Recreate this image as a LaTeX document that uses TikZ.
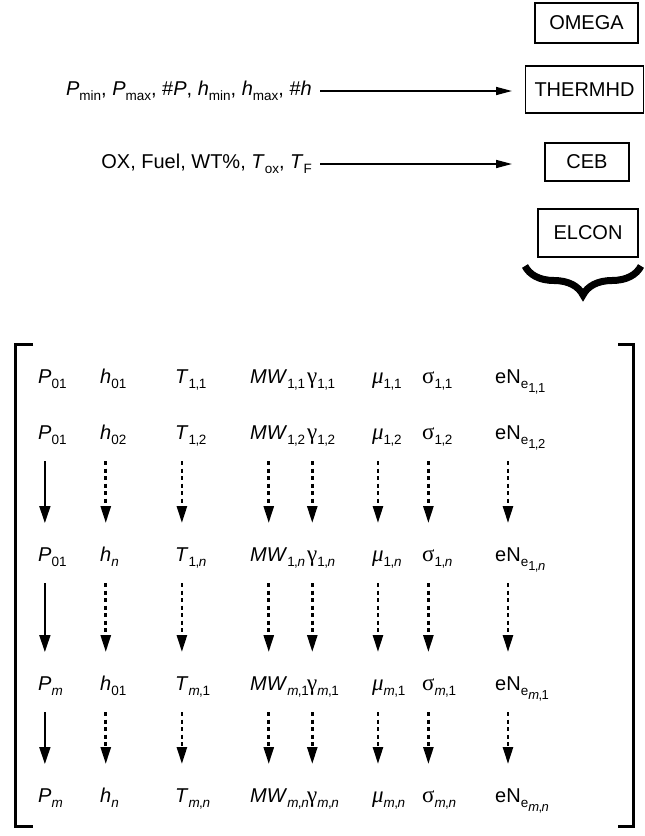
\documentclass[tikz,border=0pt]{standalone}
\usepackage{fontspec}
\setmainfont{Liberation Sans}
\newfontfamily\grk{Liberation Serif}
\usetikzlibrary{arrows.meta,decorations.pathreplacing}

\newcommand{\lo}[1]{\raisebox{-5pt}{\fontsize{13.5}{14}\selectfont #1}}
\newcommand{\lolo}[1]{\raisebox{-4pt}{\fontsize{13}{13}\selectfont #1}}
\newcommand{\ent}[2]{#1\rlap{\lo{#2}}}
\newcommand{\cm}{\kern-0.6pt,\kern-0.4pt}
\newcommand{\gk}[1]{{\fontsize{23}{24}\selectfont\grk #1}}

\tikzset{
  prog/.style={draw,line width=1.6pt,inner sep=0pt},
  intext/.style={inner sep=0pt},
  cell/.style={anchor=base west,inner sep=0pt},
  flow/.style={line width=1.6pt,-{Triangle[length=16pt,width=8pt]}},
  solidarrow/.style={line width=1.8pt,-{Triangle[length=17pt,width=11pt]}},
  dotarrow/.style={line width=2.6pt,dash pattern=on 4pt off 3.5pt,-{Triangle[length=17pt,width=10pt]}},
}

\begin{document}
\begin{tikzpicture}[x=1pt,y=-1pt,font=\fontsize{20}{24}\selectfont]
  \useasboundingbox (0,0) rectangle (645,836);

  % program boxes
  \node[prog,minimum width=103pt,minimum height=40pt] (omega) at (586.5,23) {OMEGA};
  \node[prog,minimum width=118pt,minimum height=47pt] (thermhd) at (584.5,89.5) {THERMHD};
  \node[prog,minimum width=84pt,minimum height=38pt] (ceb) at (587,162) {CEB};
  \node[prog,minimum width=100pt,minimum height=48pt] (elcon) at (588,233) {ELCON};
  \draw[line width=7pt,decorate,decoration={brace,amplitude=29pt}] (641,266) -- (525,266);

  % inputs
  \node[intext,anchor=east] (thin) at (312,91)
    {\textit{P}\lo{min}, \textit{P}\lo{max}, \#\textit{P}, \textit{h}\lo{min}, \textit{h}\lo{max}, \#\textit{h}};
  \node[intext,anchor=east] (cebin) at (312,164)
    {OX, Fuel, WT\%, \textit{T}\lo{ox}, \textit{T}\lo{F}};
  \coordinate (tip) at (512,0);
  \draw[flow,shorten <=8pt] (thin.east) -- (thin.east -| tip);
  \draw[flow,shorten <=8pt] (cebin.east) -- (cebin.east -| tip);

  % output table
  \foreach \y/\ps/\hs/\ix [count=\r] in {383/01/01/{1\cm1}, 439/01/02/{1\cm2},
      561/01/\textit{n}/{1\cm\textit{n}}, 690/\textit{m}/01/{\textit{m}\cm1},
      802/\textit{m}/\textit{n}/{\textit{m}\cm\textit{n}}} {
    \node[cell] (r\r-1) at (38,\y) {\ent{\textit{P}}{\ps}};
    \node[cell] (r\r-2) at (100,\y) {\ent{\textit{h}}{\hs}};
    \node[cell] (r\r-3) at (175,\y) {\ent{\textit{T}}{\ix}};
    \node[cell] (r\r-4) at (250,\y) {\ent{\textit{MW}}{\ix}};
    \node[cell] (r\r-5) at (307,\y) {\ent{\gk{γ}}{\ix}};
    \node[cell] (r\r-6) at (372,\y) {\ent{\gk{\itshape μ}}{\ix}};
    \node[cell] (r\r-7) at (422,\y) {\ent{\gk{σ}}{\ix}};
    \node[cell] (r\r-8) at (495,\y) {eN\rlap{\lo{e\lolo{\ix}}}};
  }
  \foreach \a/\b in {2/3,3/4,4/5} {
    \draw[solidarrow,shorten <=22pt,shorten >=38pt] (r\a-1.base) -- (r\b-1.base);
    \foreach \c in {2,...,8}
      \draw[dotarrow,shorten <=22pt,shorten >=38pt] (r\a-\c.base) -- (r\b-\c.base);
  }
  \draw[line width=3pt] (33,344) -| (15,826) -- (33,826);
  \draw[line width=3pt] (618,344) -| (633,826) -- (618,826);
\end{tikzpicture}
\end{document}
